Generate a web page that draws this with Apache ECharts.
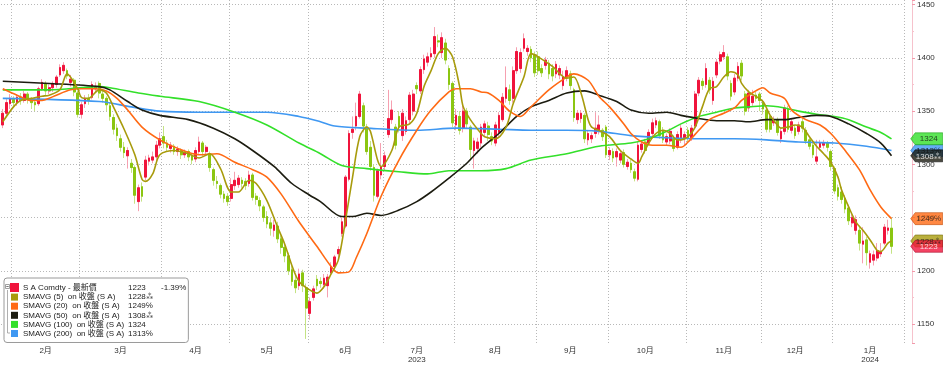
<!DOCTYPE html>
<html><head><meta charset="utf-8">
<script src="https://cdn.jsdelivr.net/npm/echarts@6/dist/echarts.min.js"></script>
<style>html,body{margin:0;padding:0;background:#fff}#c{width:943px;height:365px}</style>
</head><body><div id="c"></div>
<script>
// ---- month structure (trading days) ----
const monthLabels = ['1月','2月','3月','4月','5月','6月','7月','8月','9月','10月','11月','12月','1月'];
const monthYears  = ['','','','','','','2023','','','','','','2024'];
const monthDays   = [3,19,23,19,22,21,20,23,20,22,21,20,17];
const monthFullDays = [3,19,23,19,22,21,20,23,20,22,21,20,21];
const blankDays = 3;
const yTickValues = [1150,1200,1250,1300,1350,1400,1450];

// ---- daily OHLC ----
const opens = [
1337,1348,1357,1361,1358,1363,1360,1366,1361,1358,
1357,1371,1376,1369,1372,1375,1384,1388,1388,1377,
1379,1367,1347,1357,1362,1363,1371,1376,1366,1362,
1355,1344,1334,1324,1316,1308,1301,1297,1265,1279,
1288,1303,1304,1307,1318,1326,1320,1315,1317,1312,
1313,1309,1312,1308,1305,1312,1320,1312,1310,1295,
1284,1280,1272,1270,1268,1280,1281,1285,1284,1282,
1290,1270,1266,1260,1251,1245,1238,1242,1230,1222,
1214,1201,1191,1186,1198,1184,1160,1175,1192,1190,
1187,1186,1198,1204,1216,1235,1242,1286,1330,1336,
1345,1355,1335,1316,1297,1270,1290,1298,1328,1342,
1335,1345,1327,1331,1342,1350,1374,1369,1389,1396,
1401,1404,1416,1405,1414,1390,1376,1337,1345,1334,
1350,1335,1313,1315,1320,1330,1336,1326,1320,1330,
1342,1362,1370,1362,1388,1390,1409,1406,1408,1403,
1401,1390,1393,1395,1390,1385,1384,1374,1382,1385,
1370,1342,1343,1346,1323,1324,1329,1332,1332,1335,
1309,1312,1307,1304,1311,1298,1301,1293,1286,1314,
1321,1320,1329,1337,1340,1332,1321,1322,1324,1316,
1323,1325,1332,1325,1336,1367,1378,1375,1379,1360,
1384,1397,1401,1401,1376,1368,1381,1395,1366,1353,
1358,1365,1366,1358,1351,1345,1339,1342,1324,1331,
1352,1332,1334,1331,1340,1332,1323,1318,1303,1316,
1318,1320,1312,1296,1278,1274,1268,1259,1245,1238,
1238,1225,1229,1208,1210,1212,1216,1226,1238,1240];
const closes = [
1348,1358,1362,1358,1363,1360,1366,1361,1358,1356,
1371,1377,1369,1372,1376,1382,1391,1393,1383,1380,
1368,1347,1356,1362,1360,1375,1373,1367,1362,1356,
1345,1333,1327,1316,1311,1313,1297,1271,1278,1270,
1304,1306,1307,1318,1324,1320,1316,1318,1312,1314,
1309,1311,1307,1304,1313,1321,1312,1316,1297,1285,
1282,1272,1268,1265,1281,1285,1287,1282,1280,1290,
1269,1267,1261,1250,1244,1240,1243,1230,1222,1214,
1200,1190,1184,1197,1186,1165,1171,1183,1186,1188,
1193,1194,1204,1213,1220,1246,1288,1329,1333,1345,
1366,1336,1312,1298,1271,1294,1298,1308,1343,1351,
1318,1335,1348,1341,1365,1366,1371,1389,1399,1401,
1404,1420,1415,1419,1398,1375,1339,1346,1332,1350,
1338,1314,1322,1321,1335,1338,1328,1322,1337,1346,
1363,1372,1360,1388,1406,1405,1418,1409,1400,1386,
1388,1386,1398,1385,1383,1394,1390,1382,1388,1374,
1344,1348,1348,1324,1329,1327,1334,1337,1326,1309,
1313,1306,1312,1310,1300,1302,1295,1287,1318,1319,
1313,1330,1339,1341,1327,1323,1326,1331,1315,1328,
1334,1328,1325,1334,1366,1379,1374,1390,1370,1378,
1396,1403,1405,1383,1364,1381,1392,1383,1350,1367,
1364,1362,1360,1352,1333,1333,1342,1330,1331,1353,
1333,1340,1327,1337,1334,1322,1317,1309,1307,1320,
1320,1316,1298,1275,1270,1267,1258,1247,1250,1248,
1226,1228,1217,1216,1215,1219,1218,1241,1240.25,1223];
const lows = [
1334,1345,1352,1354,1355,1356,1358,1357,1352,1350,
1355,1369,1365,1366,1368,1372,1382,1385,1380,1373,
1364,1344,1343,1353,1356,1361,1367,1362,1358,1350,
1341,1328,1322,1312,1306,1296,1292,1263,1256,1265,
1285,1299,1301,1303,1315,1315,1312,1311,1309,1308,
1305,1306,1303,1300,1302,1310,1308,1309,1293,1280,
1277,1268,1264,1261,1265,1276,1278,1278,1276,1279,
1266,1262,1256,1246,1240,1233,1232,1226,1216,1208,
1196,1186,1179,1182,1180,1136,1154,1172,1182,1184,
1183,1175,1195,1202,1212,1232,1240,1284,1324,1332,
1343,1330,1309,1294,1265,1268,1286,1294,1325,1338,
1314,1330,1322,1328,1338,1346,1366,1366,1385,1392,
1398,1400,1410,1400,1394,1370,1335,1332,1328,1330,
1334,1304,1296,1310,1316,1326,1322,1318,1317,1326,
1340,1358,1356,1358,1385,1386,1406,1402,1396,1382,
1384,1382,1389,1380,1378,1381,1380,1370,1378,1370,
1340,1338,1339,1320,1318,1320,1325,1328,1322,1306,
1304,1302,1298,1301,1297,1295,1292,1284,1284,1311,
1310,1318,1326,1334,1324,1320,1318,1319,1312,1314,
1320,1318,1321,1322,1334,1364,1370,1372,1366,1356,
1381,1394,1398,1379,1360,1365,1378,1379,1346,1350,
1355,1359,1350,1347,1330,1330,1336,1327,1320,1328,
1330,1329,1324,1328,1330,1319,1314,1306,1300,1313,
1315,1312,1294,1272,1266,1263,1254,1243,1241,1234,
1219,1207,1205,1202,1205,1209,1213,1224,1234,1216];
const highs = [
1352,1362,1366,1364,1366,1367,1369,1368,1363,1362,
1373,1380,1378,1375,1378,1384,1394,1396,1390,1384,
1381,1369,1359,1365,1366,1378,1377,1378,1370,1364,
1358,1347,1338,1328,1321,1316,1305,1299,1281,1283,
1308,1309,1312,1322,1330,1336,1323,1321,1319,1317,
1315,1314,1314,1310,1316,1326,1322,1318,1312,1297,
1289,1282,1275,1273,1287,1293,1290,1288,1287,1294,
1292,1273,1269,1262,1256,1250,1248,1246,1233,1226,
1217,1205,1195,1202,1201,1188,1175,1186,1196,1194,
1197,1197,1208,1215,1223,1250,1290,1332,1345,1358,
1369,1358,1338,1322,1300,1296,1320,1312,1370,1360,
1338,1350,1352,1345,1368,1370,1377,1392,1403,1405,
1410,1429,1422,1424,1418,1393,1378,1352,1350,1356,
1353,1337,1325,1325,1338,1341,1340,1330,1340,1349,
1367,1392,1375,1392,1410,1409,1423,1412,1411,1406,
1406,1394,1401,1398,1394,1397,1393,1388,1392,1388,
1372,1351,1351,1348,1332,1330,1349,1346,1334,1337,
1316,1315,1315,1313,1314,1305,1304,1296,1321,1323,
1324,1333,1343,1344,1342,1335,1329,1334,1327,1331,
1337,1331,1335,1337,1369,1382,1381,1395,1382,1382,
1399,1406,1412,1404,1379,1385,1396,1398,1369,1370,
1370,1368,1368,1361,1353,1347,1345,1344,1334,1356,
1355,1343,1337,1340,1343,1335,1325,1320,1323,1323,
1323,1322,1314,1298,1281,1279,1271,1262,1253,1252,
1242,1241,1232,1219,1219,1226,1226,1244,1248,1250];

// ---- moving averages: [tradingDayIndex, value] ----
const ma5 = [[0,1340],[3,1354],[5,1360],[8,1362],[11,1364],[13,1365],[16,1370],[18,1385],[21,1371],[22,1363],[24,1362],[27,1370],[29,1367],[31,1354],[34,1333],[37,1309],[39,1286],[40,1284],[42,1291],[44,1309],[48,1313],[52,1310],[55,1306],[58,1310],[61,1296],[64,1274],[66,1274],[69,1285],[71,1282],[74,1266],[77,1241],[79,1225],[81,1205],[83,1190],[86,1182],[88,1179],[90,1185],[92,1197],[94,1210],[96,1247],[98,1288],[100,1326],[102,1335],[103,1331],[105,1304],[106,1298],[109,1313],[111,1335],[114,1338],[116,1348],[118,1373],[120,1388],[122,1404],[124,1409],[126,1401],[128,1373],[129,1354],[131,1342],[134,1329],[135,1326],[138,1324],[141,1335],[143,1357],[146,1382],[148,1404],[150,1401],[154,1392],[158,1381],[160,1382],[162,1367],[164,1342],[165,1335],[167,1332],[170,1326],[173,1313],[176,1305],[178,1301],[179,1307],[181,1320],[183,1329],[185,1332],[187,1329],[189,1323],[190,1323],[192,1326],[194,1335],[196,1354],[198,1371],[200,1373],[202,1382],[204,1387],[206,1384],[207,1376],[209,1368],[211,1364],[213,1359],[215,1346],[217,1337],[218,1334],[220,1335],[222,1337],[224,1335],[226,1326],[228,1317],[230,1310],[232,1302],[234,1288],[235,1276],[237,1260],[239,1246],[241,1238],[243,1229],[245,1219],[246,1218],[248,1226],[249,1228]];
const ma20 = [[0,1371],[4,1365],[8,1360],[11,1360],[13,1362],[15,1365],[19,1370],[22,1371],[26,1371],[29,1369],[32,1362],[35,1351],[39,1335],[44,1323],[49,1315],[55,1309],[60,1310],[65,1302],[70,1295],[74,1288],[78,1272],[83,1246],[88,1223],[92,1204],[94,1198],[97,1199],[99,1212],[102,1235],[106,1270],[111,1304],[116,1332],[120,1351],[125,1368],[127,1371],[131,1371],[134,1368],[136,1367],[139,1360],[142,1350],[145,1345],[148,1354],[153,1370],[158,1382],[160,1385],[164,1379],[167,1364],[170,1354],[174,1338],[176,1329],[179,1321],[182,1318],[186,1318],[190,1316],[192,1321],[195,1332],[198,1342],[202,1348],[205,1353],[207,1360],[210,1367],[213,1372],[215,1367],[219,1362],[221,1351],[225,1342],[229,1337],[232,1329],[236,1313],[240,1295],[243,1276],[246,1260],[249,1249]];
const ma50 = [[0,1378],[13,1376],[27,1373],[30,1370],[35,1359],[39,1351],[44,1346],[52,1342],[59,1334],[65,1324],[70,1313],[76,1298],[81,1282],[86,1271],[89,1265],[95,1251],[98,1251],[102,1254],[106,1252],[111,1257],[116,1265],[120,1274],[125,1287],[130,1301],[134,1315],[139,1329],[144,1345],[148,1354],[153,1360],[158,1367],[163,1369],[167,1365],[172,1359],[176,1351],[181,1348],[186,1349],[190,1346],[195,1343],[200,1341],[205,1341],[209,1340],[214,1342],[219,1342],[223,1344],[228,1346],[232,1345],[237,1338],[242,1329],[246,1320],[249,1308]];
const ma100 = [[0,1370],[13,1370],[27,1373],[30,1372],[38,1367],[44,1364],[55,1359],[65,1349],[74,1337],[83,1320],[89,1310],[95,1299],[102,1296],[111,1293],[119,1291],[125,1294],[134,1294],[141,1296],[148,1304],[158,1310],[167,1317],[176,1320],[181,1324],[186,1331],[190,1338],[195,1345],[200,1349],[205,1353],[209,1354],[214,1355],[219,1353],[223,1350],[228,1347],[233,1345],[237,1342],[242,1335],[246,1330],[249,1324]];
const ma200 = [[0,1362],[27,1359],[36,1354],[44,1350],[55,1349],[74,1349],[83,1345],[89,1340],[93,1336],[102,1334],[116,1332],[127,1334],[139,1333],[148,1332],[158,1332],[167,1331],[176,1327],[186,1325],[195,1324],[205,1324],[214,1323],[223,1321],[233,1320],[242,1317],[249,1313]];

const priceName = 'S A Comdty - 最新價';
const maNames  = ['SMAVG (5)  on 收盤 (S A)','SMAVG (20)  on 收盤 (S A)','SMAVG (50)  on 收盤 (S A)','SMAVG (100)  on 收盤 (S A)','SMAVG (200)  on 收盤 (S A)'];
const maColors = ['#a89b0c','#ff6a14','#1c1c10','#33e02a','#3f98f2'];
const maTagBorder = ['#6e6500','#b84400','#000000','#1a9a14','#1f66b0'];
const maTagText = ['#1a1a1a','#1a1a1a','#ffffff','#111111','#111111'];
const maGlyphs = ['⁂','℅','⁂','','℅'];
const maData = [ma5, ma20, ma50, ma100, ma200];
const upColor = '#f0143c', downColor = '#8bc611';
const upWick = '#f6a0b0', downWick = '#c4e384';

// ---- build categories ----
const categories = [];
const monthStart = [];
monthDays.forEach((d, m) => {
  monthStart.push(categories.length);
  const yr = m === 12 ? 2024 : 2023, mo = m === 12 ? 1 : m + 1;
  for (let k = 1; k <= d; k++) categories.push(yr + '/' + mo + '/' + k);
});
for (let k = 0; k < blankDays; k++) categories.push('pad' + k);
const boundarySet = new Set(monthStart.slice(1));
const labelText = {};
for (let m = 1; m < monthDays.length; m++) {
  const idx = monthStart[m] + Math.floor((monthFullDays[m] - 1) / 2);
  labelText[idx] = monthLabels[m] + (monthYears[m] ? '\n' + monthYears[m] : '');
}

const full = closes.map((c, i) => [opens[i], c, lows[i], highs[i]]);
const bodies = closes.map((c, i) => [opens[i], c, Math.min(opens[i], c), Math.max(opens[i], c)]);
const lastIdx = categories.length - 1;
const lastClose = closes[closes.length - 1];
const prevClose = closes[closes.length - 2];
const chg = ((lastClose - prevClose) / prevClose * 100).toFixed(2) + '%';
const lastMA = maData.map(a => a[a.length - 1][1]);

const FONT = "'Liberation Sans','Noto Sans CJK TC',sans-serif";

// tags: draw order blue, green, black, orange, olive, red (later on top)
const tagPath = 'path://M0,6 L4.5,0 L32,0 L32,12 L4.5,12 Z';
const tagData = [];
[4,3,2,1,0].forEach(k => {
  const txt = lastMA[k] + maGlyphs[k];
  tagData.push({value: [lastIdx, lastMA[k]],
    itemStyle: {color: maColors[k], borderColor: maTagBorder[k], borderWidth: 0.6},
    label: {formatter: () => txt, color: maTagText[k]}});
});
tagData.push({value: [lastIdx, lastClose],
  itemStyle: {color: upColor, borderColor: '#a00020', borderWidth: 0.6},
  label: {formatter: () => String(Math.round(lastClose)), color: '#ffffff'}});

const legendVals = {};
legendVals[priceName] = [String(Math.round(lastClose)), chg];
maNames.forEach((n, k) => legendVals[n] = [lastMA[k] + maGlyphs[k], '']);

const series = [
  {type: 'candlestick', name: 'wick', data: full, barWidth: 2.2, z: 2,
   itemStyle: {color: upWick, color0: downWick, borderColor: upWick, borderColor0: downWick, borderWidth: 1}},
  {type: 'candlestick', name: priceName, data: bodies, barWidth: 2.2, z: 3,
   itemStyle: {color: upColor, color0: downColor, borderColor: upColor, borderColor0: downColor, borderWidth: 1}}
];
[4,3,2,1,0].forEach(k => {
  series.push({type: 'line', name: maNames[k], data: maData[k], showSymbol: false, symbol: 'none',
    smooth: 0.3, z: 4, color: maColors[k], lineStyle: {color: maColors[k], width: 1.6}});
});
series.push({type: 'scatter', name: 'tags', data: tagData, clip: false, z: 10,
  symbol: tagPath, symbolSize: [32, 12], symbolOffset: [24.5, 0], symbolKeepAspect: false,
  label: {show: true, position: 'inside', offset: [2, 0.5], fontSize: 8, fontFamily: FONT}});

const chart = echarts.init(document.getElementById('c'), null, {renderer: 'canvas'});
chart.setOption({
  animation: false,
  backgroundColor: '#ffffff',
  textStyle: {fontFamily: FONT},
  grid: {left: 1, right: 39, top: 0, bottom: 22, outerBoundsMode: 'none'},
  xAxis: {
    type: 'category', data: categories, boundaryGap: true,
    axisLine: {show: false}, axisTick: {show: false},
    axisLabel: {interval: (i) => labelText[i] !== undefined, formatter: (v, i) => labelText[i] || '',
      fontSize: 8, color: '#333', margin: 3, lineHeight: 9, fontFamily: FONT},
    splitLine: {show: true, interval: (i) => boundarySet.has(i),
      lineStyle: {color: '#b8b8b8', type: [1, 2], width: 1}}
  },
  yAxis: {
    type: 'value', position: 'right', offset: 8, min: 1132.15, max: 1454.4, splitNumber: 6, scale: true,
    axisLine: {show: true, lineStyle: {color: '#f6c2cc', width: 1}},
    axisTick: {show: true, length: 3, lineStyle: {color: '#f29aab'}},
    minorTick: {show: true, splitNumber: 2, length: 2, lineStyle: {color: '#f6c2cc'}},
    axisLabel: {formatter: v => yTickValues.includes(v) ? String(v) : '', fontSize: 8, color: '#333', margin: 5, fontFamily: FONT},
    splitLine: {show: true, showMinLine: false, showMaxLine: false, lineStyle: {color: '#b8b8b8', type: [1, 2], width: 1}}
  },
  legend: {
    data: [priceName].concat(maNames).map(n => ({name: n, icon: 'rect'})),
    orient: 'vertical', left: 4, top: 278, padding: [5, 2, 5, 6],
    itemWidth: 7, itemHeight: 7, itemGap: 1.1, selectedMode: false,
    backgroundColor: '#ffffff', borderColor: '#9a9a9a', borderWidth: 1, borderRadius: 3,
    formatter: name => '{n|' + name + '}{v|' + legendVals[name][0] + '}{c|' + legendVals[name][1] + '}',
    textStyle: {fontSize: 8, color: '#222', fontFamily: FONT, rich: {
      n: {width: 105, fontSize: 8, lineHeight: 9, fontFamily: FONT, color: '#222'},
      v: {width: 33, fontSize: 8, lineHeight: 9, fontFamily: FONT, color: '#222'},
      c: {width: 20, fontSize: 8, lineHeight: 9, fontFamily: FONT, color: '#222'}
    }}
  },
  graphic: [
    {type: 'polyline', z: 100, shape: {points: [[7.5, 290], [7.5, 333], [10, 333]]}, style: {stroke: '#9a9a9a', lineWidth: 0.8, fill: null}},
    {type: 'rect', z: 101, shape: {x: 5.5, y: 284.5, width: 4, height: 4}, style: {fill: '#fff', stroke: '#888', lineWidth: 0.8}},
    {type: 'line', z: 102, shape: {x1: 6.3, y1: 286.5, x2: 8.7, y2: 286.5}, style: {stroke: '#555', lineWidth: 0.8}}
  ],
  series: series
});
</script>
</body></html>
